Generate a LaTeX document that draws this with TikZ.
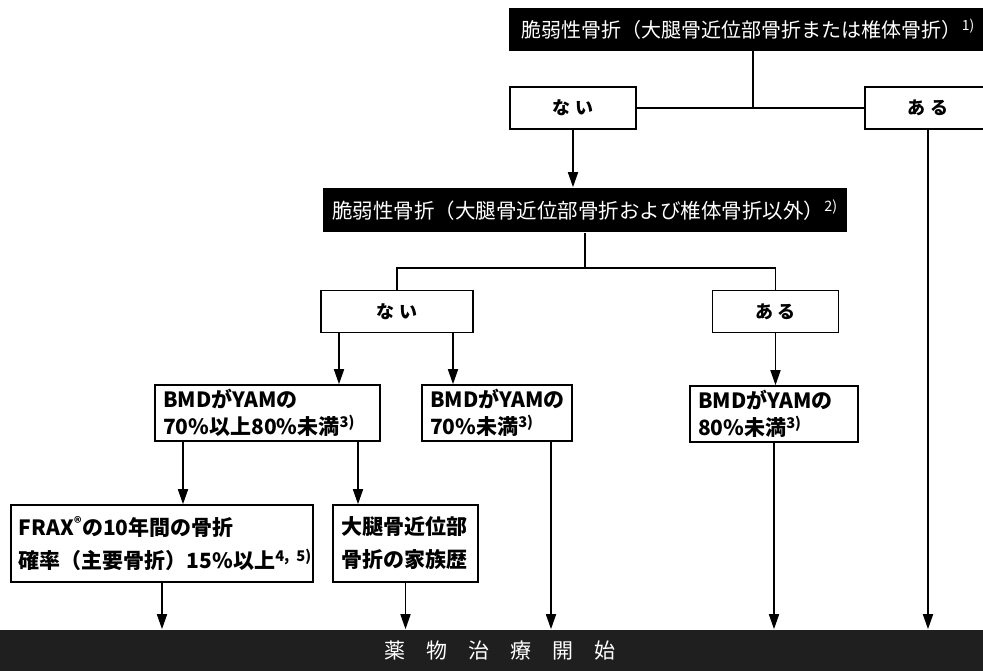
\documentclass[tikz,border=0pt]{standalone}
\usepackage{fontspec}
\setmainfont{Noto Sans CJK JP}
\usetikzlibrary{arrows.meta}

\begin{document}
\begin{tikzpicture}[x=1pt, y=-1pt, line width=1.6pt,
	    arr/.style={-{Triangle[length=15pt, width=10pt]}},
	    darkbox/.style={fill=black, text=white, inner sep=0pt, minimum height=43pt, font=\fontsize{20}{24}\selectfont},
	    choice/.style={draw, fill=white, minimum width=126pt, minimum height=42pt, font=\fontsize{18}{20}\selectfont\bfseries},
	    fact/.style={draw, fill=white, inner xsep=8pt, align=left, minimum height=56pt, font=\fontsize{21}{27}\selectfont\bfseries},
	    tallfact/.style={fact, minimum height=77pt, font=\fontsize{21}{33}\selectfont\bfseries}]
	    \clip[use as bounding box] (0, 0) rectangle (983, 670);
	    
	    \node[darkbox, anchor=west, inner xsep=13pt] at (508, 29) (frac1) {脆弱性骨折（大腿骨近位部骨折または椎体骨折）\textsuperscript{1)}};
	    \node[choice] at (573, 108) (topNai) {な い};
	    \node[choice] at (928, 108) (topAru) {あ る};
	    \node[darkbox, minimum width=524pt, minimum height=44pt, font=\fontsize{20.5}{24}\selectfont] at (585, 210) (frac2) {脆弱性骨折（大腿骨近位部骨折および椎体骨折以外）\textsuperscript{2)}};
	    \node[choice, minimum width=152pt] at (397, 311.5) (midNai) {な い};
	    \node[choice] at (775.5, 311.5) (midAru) {あ る};
	    \node[fact, text width=209pt] at (267.5, 413) (bmdA) {BMDがYAMの\\70\%以上80\%未満\textsuperscript{3)}};
	    \node[fact, text width=134pt] at (497, 413) (bmdB) {BMDがYAMの\\70\%未満\textsuperscript{3)}};
	    \node[fact, text width=152pt] at (774, 414) (bmdC) {BMDがYAMの\\80\%未満\textsuperscript{3)}};
	    \node[tallfact, text width=286pt] at (162, 543.5) (frax) {FRAX\textsuperscript{®}の10年間の骨折\\確率（主要骨折）15\%以上\textsuperscript{4, 5)}};
	    \node[tallfact, text width=129pt] at (405.5, 543.5) (famhist) {大腿骨近位部\\骨折の家族歴};
	    \node[fill=black!88, text=white, minimum width=1010pt, minimum height=42pt, inner sep=0pt, font=\fontsize{21}{24}\selectfont] at (500, 651) (start) {薬　物　治　療　開　始};
	    
	    \coordinate (j1) at (753, 108);
	    \coordinate (j2) at (585, 268);
	    
	    \draw (frac1.south -| j1) -- (j1);
	    \draw (topNai) -- (topAru);
	    \draw[arr] (topNai) -- (topNai |- frac2.north);
	    \draw (frac2) -- (j2);
	    \draw (midNai) |- (j2) -| (midAru);
	    \draw[arr] ([xshift=-58pt]midNai.south) -- ([xshift=-58pt]midNai.south |- bmdA.north);
	    \draw[arr] ([xshift=56pt]midNai.south) -- ([xshift=56pt]midNai.south |- bmdB.north);
	    \draw[arr] (midAru) -- (midAru |- bmdC.north);
	    \draw[arr] ([xshift=-84.5pt]bmdA.south) -- ([xshift=-84.5pt]bmdA.south |- frax.north);
	    \draw[arr] ([xshift=90.5pt]bmdA.south) -- ([xshift=90.5pt]bmdA.south |- famhist.north);
	    \draw[arr] (frax) -- (frax |- start.north);
	    \draw[arr] (famhist) -- (famhist |- start.north);
	    \draw[arr] ([xshift=54pt]bmdB.south) -- ([xshift=54pt]bmdB.south |- start.north);
	    \draw[arr] (bmdC) -- (bmdC |- start.north);
	    \draw[arr] (topAru) -- (topAru |- start.north);
	    
	    \end{tikzpicture}
\end{document}
